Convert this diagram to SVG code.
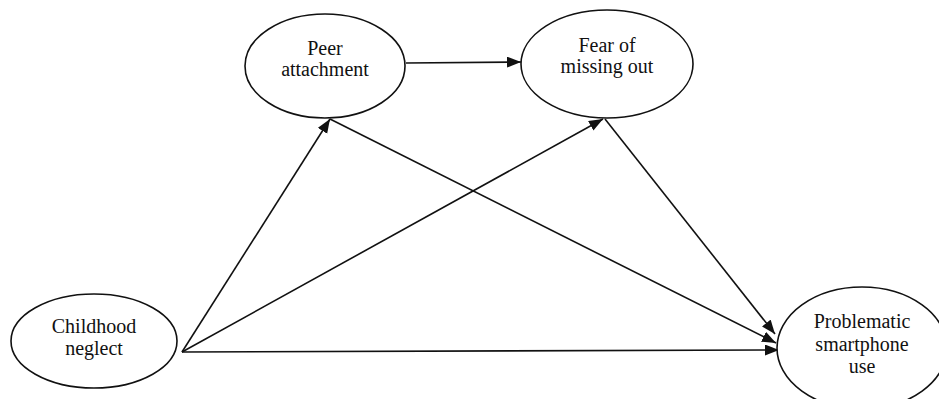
<svg xmlns="http://www.w3.org/2000/svg" width="939" height="399" viewBox="0 0 939 399">
<defs>
<style>
.node ellipse{fill:#fff;stroke:#111;stroke-width:1.6}
.node text{font-family:"Liberation Serif","Times New Roman",serif;font-size:20px;fill:#111;text-anchor:middle}
.edges line{stroke:#111;stroke-width:1.6;fill:none;marker-end:url(#arr)}
</style>
<marker id="arr" markerUnits="userSpaceOnUse" markerWidth="15" markerHeight="12" refX="14" refY="5.5" orient="auto">
<path d="M0,0 L14,5.5 L0,11 z" fill="#111"/>
</marker>
</defs>
<rect width="939" height="399" fill="#fff"/>
<g id="edges" class="edges">
<line x1="406" y1="63" x2="521" y2="62"/>
<line x1="182" y1="352" x2="330" y2="119"/>
<line x1="182" y1="352" x2="603" y2="119"/>
<line x1="182" y1="352" x2="779" y2="350"/>
<line x1="330" y1="119" x2="776" y2="343"/>
<line x1="605" y1="119" x2="775" y2="334"/>
</g>
<g id="peer" class="node">
<ellipse cx="325" cy="66" rx="80" ry="52"/>
<text x="325" y="55">Peer</text>
<text x="325" y="76">attachment</text>
</g>
<g id="fomo" class="node">
<ellipse cx="607" cy="64" rx="86" ry="54"/>
<text x="607" y="52">Fear of</text>
<text x="607" y="73">missing out</text>
</g>
<g id="neglect" class="node">
<ellipse cx="94" cy="341" rx="83" ry="47"/>
<text x="94" y="333">Childhood</text>
<text x="94" y="355">neglect</text>
</g>
<g id="psu" class="node">
<ellipse cx="862" cy="348" rx="85" ry="61"/>
<text x="862" y="328">Problematic</text>
<text x="862" y="351">smartphone</text>
<text x="862" y="373">use</text>
</g>
</svg>
